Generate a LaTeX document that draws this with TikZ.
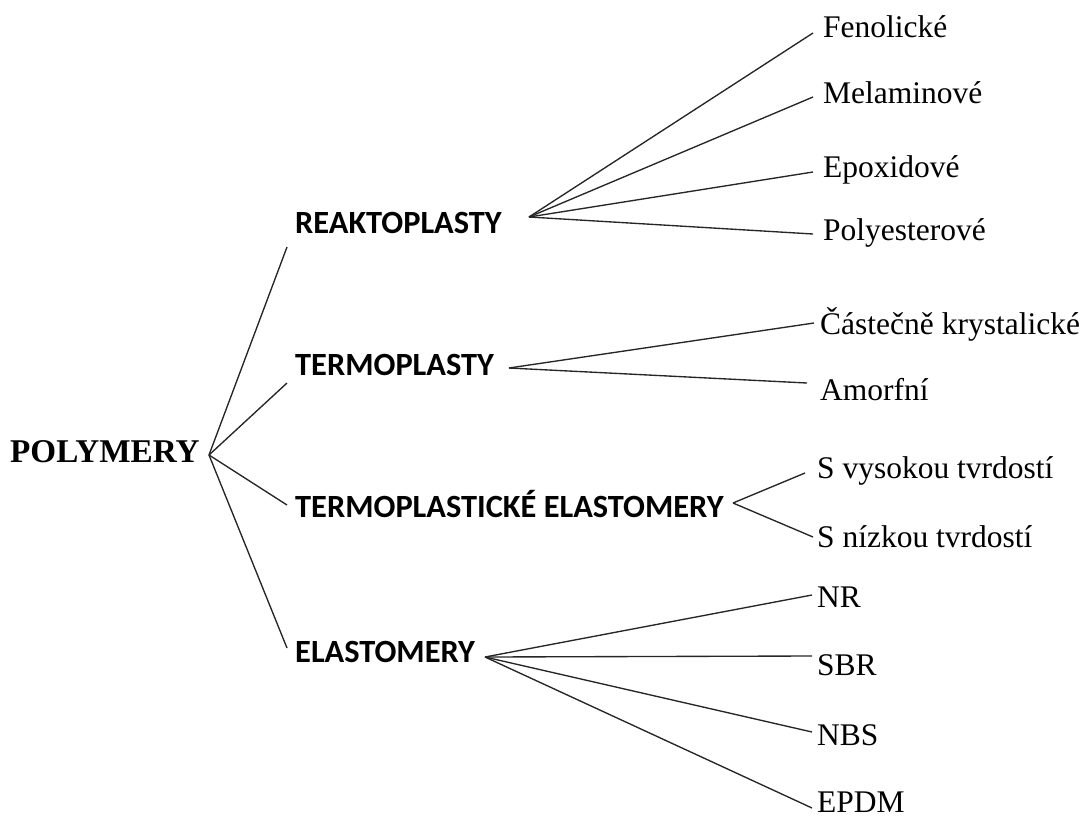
\documentclass[tikz,border=0pt]{standalone}
\usepackage{fontspec}
\setmainfont{Liberation Serif}
\newfontfamily\catfnt{Carlito}
\begin{document}
\begin{tikzpicture}[x=1pt,y=-1pt,
  conn/.style={line width=1.35pt,black!85},
  leaf/.style={anchor=base west,inner sep=0pt,font=\fontsize{31.5}{34}\selectfont},
  cat/.style={anchor=base west,inner sep=0pt,font=\catfnt\bfseries\fontsize{32.4}{34}\selectfont},
  root/.style={anchor=base west,inner sep=0pt,font=\bfseries\fontsize{33.2}{36}\selectfont}]
\useasboundingbox (0,0) rectangle (1088,815);
% texts
\node[root] (poly) at (10,462) {POLYMERY};
\node[cat] (reak) at (295,233) {REAKTOPLASTY};
\node[cat] (term) at (295,375) {TERMOPLASTY};
\node[cat] (tpe) at (295,517) {TERMOPLASTICKÉ ELASTOMERY};
\node[cat] (elas) at (295,662) {ELASTOMERY};
\node[leaf] (fen) at (823,37) {Fenolické};
\node[leaf] (mel) at (823,103) {Melaminové};
\node[leaf] (epo) at (823,177) {Epoxidové};
\node[leaf] (pol) at (823,240) {Polyesterové};
\node[leaf] (cas) at (820,334) {Částečně krystalické};
\node[leaf] (amo) at (820,400) {Amorfní};
\node[leaf] (svy) at (817,478) {S vysokou tvrdostí};
\node[leaf] (sni) at (817,547) {S nízkou tvrdostí};
\node[leaf] (nr) at (817,607) {NR};
\node[leaf] (sbr) at (817,675) {SBR};
\node[leaf] (nbs) at (817,745) {NBS};
\node[leaf] (epdm) at (817,812) {EPDM};
% hubs and line ends
\coordinate (hP) at (209,455);
\coordinate (hR) at (529,217);
\coordinate (hT) at (509,368);
\coordinate (hTE) at (733,503);
\coordinate (hE) at (485,657);
\coordinate (eR) at (287,247);
\coordinate (eT) at (287,383);
\coordinate (eTE) at (287,505);
\coordinate (eE) at (287,648);
\coordinate (eFen) at (813,33);
\coordinate (eMel) at (813,97);
\coordinate (eEpo) at (813,172);
\coordinate (ePol) at (813,234);
\coordinate (eCas) at (814,323);
\coordinate (eAmo) at (807,383);
\coordinate (eSvy) at (805,473);
\coordinate (eSni) at (813,537);
\coordinate (eNR) at (812,595);
\coordinate (eSBR) at (812,656);
\coordinate (eNBS) at (812,732);
\coordinate (eEPDM) at (812,808);
% connectors
\draw[conn] (hP) -- (eR);
\draw[conn] (hP) -- (eT);
\draw[conn] (hP) -- (eTE);
\draw[conn] (hP) -- (eE);
\draw[conn] (hR) -- (eFen);
\draw[conn] (hR) -- (eMel);
\draw[conn] (hR) -- (eEpo);
\draw[conn] (hR) -- (ePol);
\draw[conn] (hT) -- (eCas);
\draw[conn] (hT) -- (eAmo);
\draw[conn] (hTE) -- (eSvy);
\draw[conn] (hTE) -- (eSni);
\draw[conn] (hE) -- (eNR);
\draw[conn] (hE) -- (eSBR);
\draw[conn] (hE) -- (eNBS);
\draw[conn] (hE) -- (eEPDM);
\end{tikzpicture}
\end{document}
